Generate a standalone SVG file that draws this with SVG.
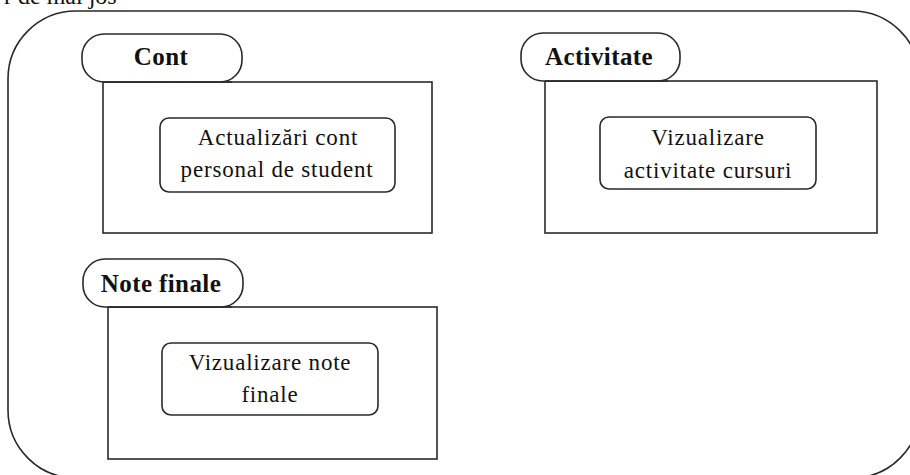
<svg xmlns="http://www.w3.org/2000/svg" width="910" height="475" viewBox="0 0 910 475">
<style>
.ln{fill:#fff;stroke:#2a2a2a;stroke-width:1.6}
.lbl{font-family:"Liberation Serif",serif;font-weight:bold;font-size:25px;fill:#111;text-anchor:middle;letter-spacing:0.4px}
.txt{font-family:"Liberation Serif",serif;font-size:23px;fill:#111;text-anchor:middle;letter-spacing:0.8px}
</style>
<rect width="910" height="475" fill="#fff"/>
<text x="4" y="4" style="font-family:'Liberation Serif',serif;font-size:24px;fill:#111">r de mai jos</text>
<g id="frame">
<rect class="ln" x="8" y="11" width="912" height="467" rx="68" ry="68"/>
</g>
<g id="cont">
<rect class="ln" x="103" y="82" width="329" height="151"/>
<rect class="ln" x="82" y="34" width="160" height="48" rx="22" ry="22"/>
<line x1="103" y1="82" x2="232" y2="82" stroke="#2a2a2a" stroke-width="1.6"/>
<text class="lbl" x="161" y="65">Cont</text>
<rect class="ln" x="160" y="118" width="235" height="74" rx="9" ry="9"/>
<text class="txt" x="278" y="145">Actualizări cont</text>
<text class="txt" x="277" y="177">personal de student</text>
</g>
<g id="activitate">
<rect class="ln" x="545" y="81" width="332" height="152"/>
<rect class="ln" x="521" y="33" width="159" height="48" rx="22" ry="22"/>
<line x1="545" y1="81" x2="668" y2="81" stroke="#2a2a2a" stroke-width="1.6"/>
<text class="lbl" x="599" y="65">Activitate</text>
<rect class="ln" x="600" y="117" width="216" height="72" rx="9" ry="9"/>
<text class="txt" x="708" y="145">Vizualizare</text>
<text class="txt" x="708" y="178">activitate cursuri</text>
</g>
<g id="note-finale">
<rect class="ln" x="108" y="307" width="329" height="152"/>
<rect class="ln" x="83" y="259" width="160" height="48" rx="22" ry="22"/>
<line x1="108" y1="307" x2="232" y2="307" stroke="#2a2a2a" stroke-width="1.6"/>
<text class="lbl" x="161" y="292">Note finale</text>
<rect class="ln" x="162" y="343" width="216" height="72" rx="9" ry="9"/>
<text class="txt" x="270" y="370">Vizualizare note</text>
<text class="txt" x="270" y="402">finale</text>
</g>
<g id="connectors"></g>
</svg>
